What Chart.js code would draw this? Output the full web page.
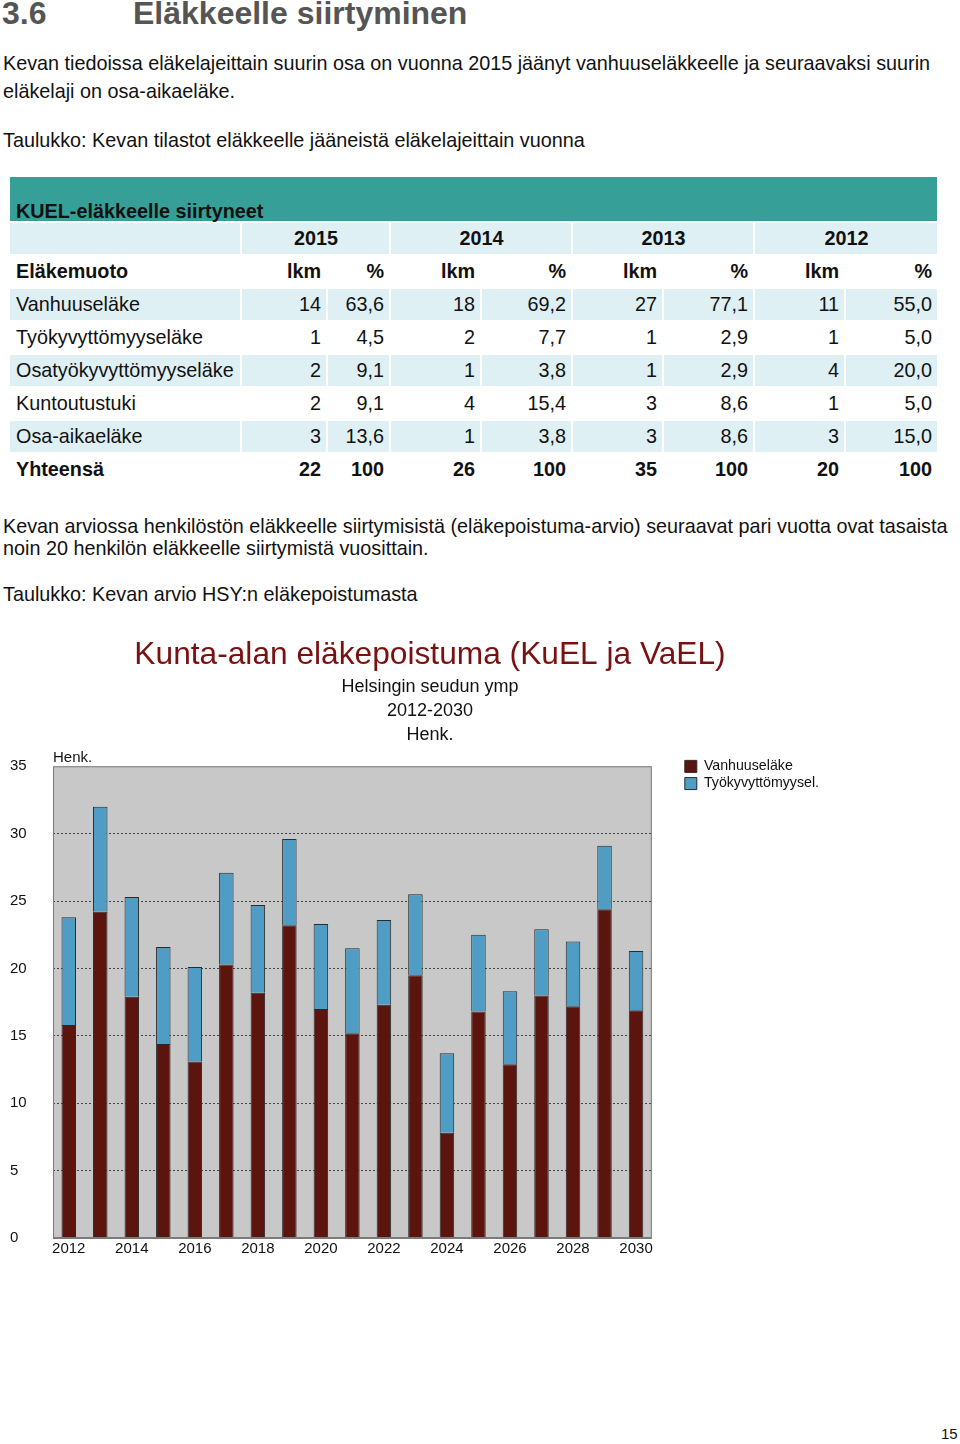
<!DOCTYPE html>
<html>
<head>
<meta charset="utf-8">
<script src="https://cdn.jsdelivr.net/npm/chart.js@4"></script>
<style>
    body { margin: 0; width: 960px; height: 1444px; position: relative; background: #fff;
           font-family: "Liberation Sans", Arial, sans-serif; color: #111; overflow: hidden; }
    .abs { position: absolute; white-space: nowrap; }
    h1 { position: absolute; margin: 0; left: 2px; top: -5px; font-size: 32px; color: #555; font-weight: bold; white-space: nowrap; }
    h1 span { position: absolute; left: 131px; }
    .p { font-size: 19.8px; left: 3px; }
    table { position: absolute; left: 8px; top: 175px; width: 931px; border-collapse: separate;
            border-spacing: 2px 2px; font-size: 19.8px; table-layout: fixed; }
    td { height: 31px; padding: 0 5px 0 6px; text-align: right; box-sizing: border-box; white-space: nowrap; }
    td.l { text-align: left; }
    tr.hd td { background: #359f98; height: 44px; font-weight: bold; text-align: left; vertical-align: bottom; padding-bottom: 0; }
    tr.hd td span { position: relative; top: 2px; }
    tr.yr td { background: #dff0f5; font-weight: bold; text-align: center; }
    tr.b td { font-weight: bold; }
    tr.s td { background: #dff0f5; }
    #chartWrap { position: absolute; left: 10px; top: 625px; width: 840px; height: 640px; }
</style>
</head>
<body>
<h1>3.6<span>Eläkkeelle siirtyminen</span></h1>
<div class="abs p" style="top:52px">Kevan tiedoissa eläkelajeittain suurin osa on vuonna 2015 jäänyt vanhuuseläkkeelle ja seuraavaksi suurin</div>
<div class="abs p" style="top:80px">eläkelaji on osa-aikaeläke.</div>
<div class="abs p" style="top:129px">Taulukko: Kevan tilastot eläkkeelle jääneistä eläkelajeittain vuonna</div>

<table id="tbl"></table>

<div class="abs p" style="top:515px">Kevan arviossa henkilöstön eläkkeelle siirtymisistä (eläkepoistuma-arvio) seuraavat pari vuotta ovat tasaista</div>
<div class="abs p" style="top:537px">noin 20 henkilön eläkkeelle siirtymistä vuosittain.</div>
<div class="abs p" style="top:583px">Taulukko: Kevan arvio HSY:n eläkepoistumasta</div>

<div id="chartWrap"><canvas id="chart"></canvas></div>

<div class="abs" style="left:941px;top:1425px;font-size:15px">15</div>

<script>
// table data
const tableYears = ["2015", "2014", "2013", "2012"];
const tableTypes = ["Vanhuuseläke", "Työkyvyttömyyseläke", "Osatyökyvyttömyyseläke", "Kuntoutustuki", "Osa-aikaeläke", "Yhteensä"];
const tableCounts = [
    [14, 18, 27, 11],
    [1, 2, 1, 1],
    [2, 1, 1, 4],
    [2, 4, 3, 1],
    [3, 1, 3, 3],
    [22, 26, 35, 20]
];
const tablePct = [
    ["63,6", "69,2", "77,1", "55,0"],
    ["4,5", "7,7", "2,9", "5,0"],
    ["9,1", "3,8", "2,9", "20,0"],
    ["9,1", "15,4", "8,6", "5,0"],
    ["13,6", "3,8", "8,6", "15,0"],
    ["100", "100", "100", "100"]
];

// chart data
const years = ["2012", "2013", "2014", "2015", "2016", "2017", "2018", "2019", "2020", "2021",
               "2022", "2023", "2024", "2025", "2026", "2027", "2028", "2029", "2030"];
const vanhuus = [15.8, 24.2, 17.9, 14.4, 13.1, 20.3, 18.2, 23.2, 17.0, 15.2,
                 17.3, 19.5, 7.8, 16.8, 12.9, 18.0, 17.2, 24.4, 16.9];
const tyokyvyttomyys = [8.0, 7.8, 7.4, 7.2, 7.0, 6.8, 6.5, 6.4, 6.3, 6.3,
                        6.3, 6.0, 5.9, 5.7, 5.4, 4.9, 4.8, 4.7, 4.4];

const colWidths = [230, 84, 61, 89, 89, 89, 89, 89, 91];

function buildTable() {
    const t = document.getElementById("tbl");
    let html = `<colgroup>${colWidths.map(w => `<col style="width:${w}px">`).join("")}</colgroup>`;
    html += `<tr class="hd"><td colspan="9" class="l"><span>KUEL-eläkkeelle siirtyneet</span></td></tr>`;
    html += `<tr class="yr"><td></td>${tableYears.map(y => `<td colspan="2">${y}</td>`).join("")}</tr>`;
    html += `<tr class="b"><td class="l">Eläkemuoto</td>${tableYears.map(() => `<td>lkm</td><td>%</td>`).join("")}</tr>`;
    tableTypes.forEach((type, i) => {
        const cls = i === tableTypes.length - 1 ? "b" : (i % 2 === 0 ? "s" : "");
        let row = `<tr class="${cls}"><td class="l">${type}</td>`;
        tableYears.forEach((y, j) => {
            row += `<td>${tableCounts[i][j]}</td><td>${tablePct[i][j]}</td>`;
        });
        html += row + "</tr>";
    });
    t.innerHTML = html;
}

buildTable();

const FONT = "'Liberation Sans', Arial, sans-serif";

const plotBg = {
    id: "plotBg",
    afterLayout(chart) {
        // legend sits level with the top of the plot
        const lg = chart.legend;
        lg.top -= 10;
        lg.bottom -= 10;
    },
    beforeDraw(chart) {
        const { ctx, chartArea: a } = chart;
        ctx.save();
        ctx.fillStyle = "#c8c8c8";
        ctx.fillRect(a.left, a.top, a.right - a.left, a.bottom - a.top);
        ctx.restore();
    },
    afterDraw(chart) {
        const { ctx, chartArea: a } = chart;
        ctx.save();
        ctx.strokeStyle = "#7a7a7a";
        ctx.lineWidth = 1;
        ctx.strokeRect(a.left + 0.5, a.top + 0.5, a.right - a.left - 1, a.bottom - a.top - 1);
        ctx.fillStyle = "#111";
        ctx.font = "15px " + FONT;
        ctx.textBaseline = "bottom";
        ctx.fillText("Henk.", a.left, a.top - 1);
        ctx.restore();
    }
};

const spacer = w => ({
    display: true,
    position: "right",
    grid: { display: false },
    border: { display: false },
    ticks: { display: false },
    afterFit: scale => { scale.width = w; }
});

new Chart(document.getElementById("chart"), {
    type: "bar",
    data: {
        labels: years,
        datasets: [{
            label: "Vanhuuseläke",
            data: vanhuus,
            backgroundColor: "#5c140f",
            borderColor: "#2b2b2b",
            borderWidth: 1
        }, {
            label: "Työkyvyttömyysel.",
            data: tyokyvyttomyys,
            backgroundColor: "#4f9cc4",
            borderColor: "#2b2b2b",
            borderWidth: 1
        }]
    },
    options: {
        responsive: true,
        maintainAspectRatio: false,
        animation: false,
        categoryPercentage: 1,
        barPercentage: 0.46,
        layout: { padding: { left: 0, right: 0, bottom: 5 } },
        plugins: {
            title: {
                display: true,
                text: "Kunta-alan eläkepoistuma (KuEL ja VaEL)",
                color: "#7a1010",
                font: { family: FONT, size: 31.7, weight: "normal", lineHeight: 1.15 },
                padding: { top: 12, bottom: 2 }
            },
            subtitle: {
                display: true,
                text: ["Helsingin seudun ymp", "2012-2030", "Henk."],
                color: "#111",
                font: { family: FONT, size: 18, lineHeight: 1.33 },
                padding: { top: 0, bottom: 19 }
            },
            legend: {
                position: "right",
                align: "start",
                fullSize: false,
                maxWidth: 200,
                labels: {
                    boxWidth: 12,
                    boxHeight: 12,
                    padding: 3,
                    color: "#111",
                    font: { family: FONT, size: 14.2 }
                }
            },
            tooltip: { enabled: false }
        },
        scales: {
            x: {
                stacked: true,
                grid: { display: false, drawTicks: false },
                border: { color: "#7a7a7a" },
                ticks: {
                    autoSkip: false,
                    maxRotation: 0,
                    color: "#111",
                    padding: 2,
                    font: { family: FONT, size: 15 },
                    callback: function (value, index) {
                        return index % 2 === 0 ? this.getLabelForValue(value) : "";
                    }
                }
            },
            y: {
                stacked: true,
                min: 0,
                max: 35,
                afterFit: scale => { scale.width = 43; },
                grid: {
                    drawTicks: false,
                    color: ctx => (ctx.tick && (ctx.tick.value === 0 || ctx.tick.value === 35)) ? "rgba(0,0,0,0)" : "#444"
                },
                border: { display: false, dash: [2, 2] },
                ticks: {
                    stepSize: 5,
                    color: "#111",
                    crossAlign: "far",
                    font: { family: FONT, size: 15 }
                }
            },
            gap: Object.assign(spacer(30), { weight: 0 }),
            edge: Object.assign(spacer(21), { weight: 3000 })
        }
    },
    plugins: [plotBg]
});
</script>
</body>
</html>
